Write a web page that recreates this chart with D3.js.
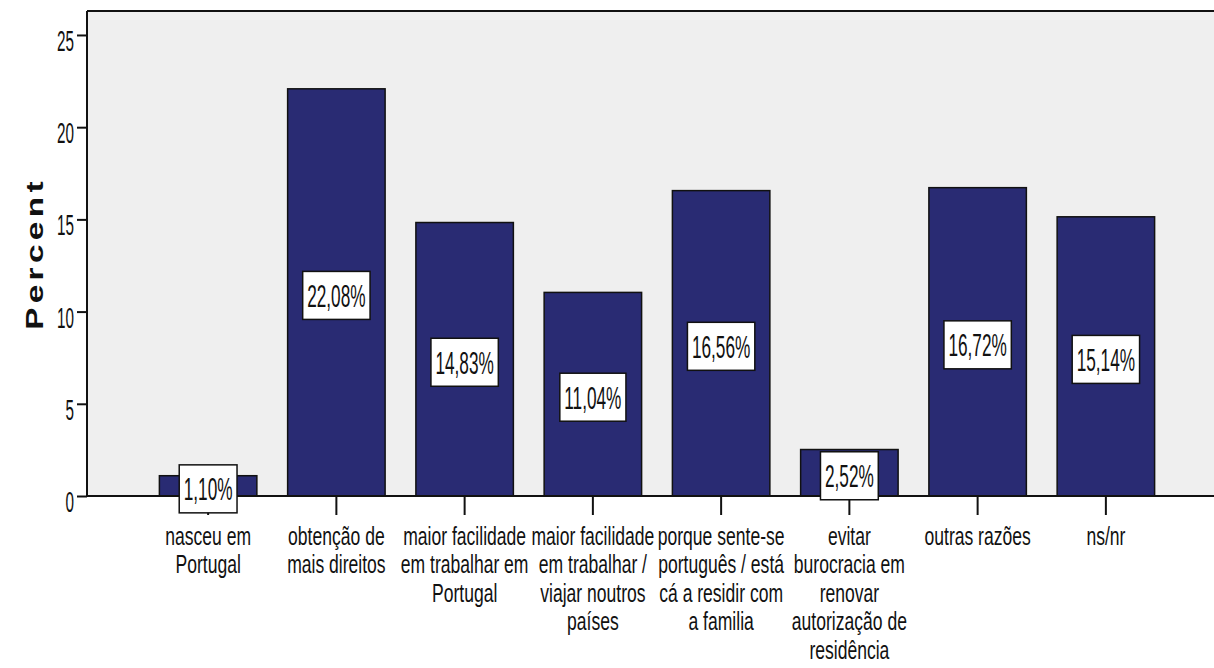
<!DOCTYPE html>
<html><head><meta charset="utf-8">
<script src="https://cdn.jsdelivr.net/npm/d3@7"></script>
<style>body{margin:0;background:#fff;} svg{display:block;}</style>
</head><body>
<svg id="chart" width="1214" height="668"></svg>
<script>
const categories = ["nasceu em Portugal","obtenção de mais direitos","maior facilidade em trabalhar em Portugal","maior facilidade em trabalhar / viajar noutros países","porque sente-se português / está cá a residir com a familia","evitar burocracia em renovar autorização de residência","outras razões","ns/nr"];
const categoryLines = [
  ["nasceu em","Portugal"],
  ["obtenção de","mais direitos"],
  ["maior facilidade","em trabalhar em","Portugal"],
  ["maior facilidade","em trabalhar /","viajar noutros","países"],
  ["porque sente-se","português / está","cá a residir com","a familia"],
  ["evitar","burocracia em","renovar","autorização de","residência"],
  ["outras razões"],
  ["ns/nr"]
];
const percents = [1.10, 22.08, 14.83, 11.04, 16.56, 2.52, 16.72, 15.14];
const valueLabels = ["1,10%","22,08%","14,83%","11,04%","16,56%","2,52%","16,72%","15,14%"];
const yTicks = [0, 5, 10, 15, 20, 25];
const yTitle = "Percent";

const svg = d3.select("#chart");
const L = 87, T = 11, R = 1214, B = 496;
const sans = "'Liberation Sans',Arial,sans-serif";
const NX = 0.82; // horizontal squeeze to imitate a narrow face

const x = d3.scaleBand().domain(categories).range([144, 1170]).paddingInner(0.24).paddingOuter(0.12);
const y = d3.scaleLinear().domain([0, 26.3]).range([B, T]);

// plot background
svg.append("rect").attr("x", L).attr("y", T).attr("width", R - L).attr("height", B - T).attr("fill", "#efefef");

// bars
svg.append("g").selectAll("rect").data(percents).join("rect")
  .attr("x", (d, i) => x(categories[i]))
  .attr("y", d => y(d))
  .attr("width", x.bandwidth())
  .attr("height", d => B - y(d))
  .attr("fill", "#292b73")
  .attr("stroke", "#111")
  .attr("stroke-width", 1.5);

// frame line (top)
svg.append("line").attr("x1", L).attr("x2", R).attr("y1", T).attr("y2", T).attr("stroke", "#111").attr("stroke-width", 2);

// y axis
const yAxis = svg.append("g").attr("transform", `translate(${L},0)`)
  .call(d3.axisLeft(y).tickValues(yTicks).tickSize(10).tickFormat(d3.format("d")));
yAxis.select(".domain").attr("stroke", "#111").attr("stroke-width", 2).attr("d", `M0,${T}V${B}`);
yAxis.selectAll(".tick line").attr("stroke", "#111").attr("stroke-width", 2);
yAxis.selectAll(".tick text")
  .attr("x", null).attr("dy", null)
  .attr("transform", `translate(-13,15.5) scale(${NX},1.6)`)
  .attr("text-anchor", "end")
  .style("font-family", sans).style("font-size", "18.6px").attr("fill", "#111");

// x axis
const xAxis = svg.append("g").attr("transform", `translate(0,${B})`)
  .call(d3.axisBottom(x).tickSize(19).tickFormat(""));
xAxis.select(".domain").attr("stroke", "#111").attr("stroke-width", 2).attr("d", `M${L},0H${R}`);
xAxis.selectAll(".tick line").attr("stroke", "#111").attr("stroke-width", 2);
xAxis.selectAll(".tick text").remove();
xAxis.selectAll(".tick").each(function(d, i) {
  const t = d3.select(this).append("text")
    .attr("transform", `translate(0,49) scale(${NX},1.2)`)
    .attr("text-anchor", "middle")
    .style("font-family", sans).style("font-size", "21.4px").attr("fill", "#111");
  categoryLines[i].forEach((ln, k) => {
    t.append("tspan").attr("x", 0).attr("y", k * 28.4 / 1.2).text(ln);
  });
});

// value labels
const lab = svg.append("g").selectAll("g").data(percents).join("g")
  .attr("transform", (d, i) => `translate(${x(categories[i]) + x.bandwidth() / 2},${(y(d) + B) / 2 + 3})`);
lab.each(function(d, i) {
  const g = d3.select(this);
  const r = g.append("rect");
  const t = g.append("text")
    .attr("text-anchor", "middle")
    .attr("transform", `translate(0,11.3) scale(${NX},1.5)`)
    .style("font-family", sans).style("font-size", "21px").attr("fill", "#111")
    .text(valueLabels[i]);
  const w = t.node().getComputedTextLength() * NX + 9;
  r.attr("x", -w / 2).attr("y", -24).attr("width", w).attr("height", 48)
    .attr("fill", "#fff").attr("stroke", "#111").attr("stroke-width", 1.5);
});

// y title
svg.append("text")
  .attr("transform", `translate(43,${(T + B) / 2}) rotate(-90) scale(1.45,1)`)
  .attr("text-anchor", "middle")
  .style("font-family", sans).style("font-weight", "bold")
  .style("font-size", "23px").style("letter-spacing", "3px").attr("fill", "#111")
  .text(yTitle);
</script>
</body></html>
